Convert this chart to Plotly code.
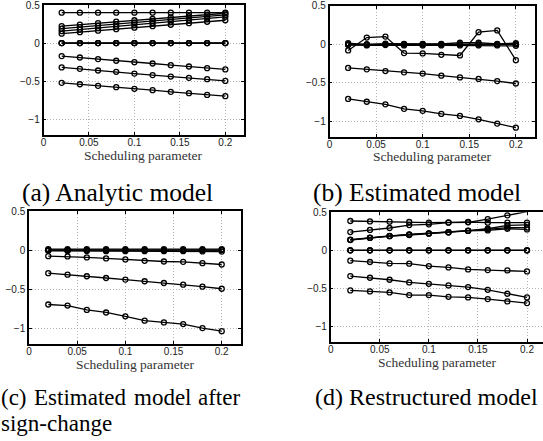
import plotly.graph_objects as go

# Scheduling parameter values (x)
sched = [0.02, 0.04, 0.06, 0.08, 0.10, 0.12, 0.14, 0.16, 0.18, 0.20]

# (a) Analytic model
a_flat = [0.40, 0.40, 0.40, 0.40, 0.40, 0.40, 0.40, 0.40, 0.40, 0.40]
a_rise1 = [0.224, 0.243, 0.262, 0.281, 0.300, 0.318, 0.337, 0.355, 0.373, 0.392]
a_rise2 = [0.190, 0.210, 0.230, 0.250, 0.270, 0.290, 0.310, 0.330, 0.350, 0.370]
a_rise3 = [0.158, 0.178, 0.199, 0.220, 0.241, 0.262, 0.283, 0.304, 0.325, 0.345]
a_rise4 = [0.124, 0.144, 0.163, 0.183, 0.202, 0.222, 0.241, 0.261, 0.280, 0.300]
a_zero = [0.0, 0.0, 0.0, 0.0, 0.0, 0.0, 0.0, 0.0, 0.0, 0.0]
a_neg1 = [-0.171, -0.189, -0.210, -0.232, -0.250, -0.268, -0.290, -0.307, -0.329, -0.346]
a_neg2 = [-0.320, -0.338, -0.360, -0.377, -0.400, -0.420, -0.439, -0.456, -0.474, -0.496]
a_neg3 = [-0.522, -0.540, -0.561, -0.579, -0.600, -0.618, -0.640, -0.658, -0.680, -0.697]

# (b) Estimated model
b_zero1 = [0.015, -0.005, 0.010, 0.005, 0.005, 0.005, 0.020, 0.020, 0.005, 0.015]
b_zero2 = [0.000, 0.000, 0.000, 0.000, 0.000, 0.000, 0.000, 0.000, 0.000, 0.000]
b_zero3 = [-0.010, -0.015, -0.010, -0.015, -0.015, -0.015, -0.015, -0.015, -0.015, -0.020]
b_osc = [-0.080, 0.088, 0.100, -0.114, -0.118, -0.136, -0.145, 0.158, 0.180, -0.206]
b_neg1 = [-0.307, -0.325, -0.347, -0.364, -0.380, -0.408, -0.430, -0.450, -0.478, -0.509]
b_neg2 = [-0.710, -0.746, -0.780, -0.838, -0.864, -0.904, -0.930, -0.974, -1.030, -1.083]

# (c) Estimated model after sign-change
c_zero1 = [0.012, 0.012, 0.012, 0.012, 0.012, 0.012, 0.012, 0.012, 0.012, 0.012]
c_zero2 = [0.000, 0.000, 0.000, 0.000, 0.000, 0.000, 0.000, 0.000, 0.000, 0.000]
c_zero3 = [-0.010, -0.012, -0.012, -0.015, -0.015, -0.015, -0.015, -0.015, -0.018, -0.020]
c_neg1 = [-0.078, -0.082, -0.095, -0.108, -0.120, -0.138, -0.147, -0.151, -0.168, -0.185]
c_neg2 = [-0.297, -0.315, -0.336, -0.358, -0.379, -0.400, -0.422, -0.444, -0.470, -0.496]
c_neg3 = [-0.698, -0.711, -0.767, -0.800, -0.849, -0.905, -0.927, -0.948, -1.000, -1.039]

# (d) Restructured model
d_flat = [0.386, 0.380, 0.377, 0.373, 0.364, 0.368, 0.373, 0.364, 0.364, 0.364]
d_rise = [0.241, 0.268, 0.294, 0.333, 0.342, 0.364, 0.368, 0.410, 0.460, 0.509]
d_low1 = [0.140, 0.167, 0.190, 0.210, 0.224, 0.240, 0.259, 0.284, 0.327, 0.336]
d_low2 = [0.138, 0.165, 0.188, 0.206, 0.222, 0.238, 0.257, 0.276, 0.300, 0.300]
d_low3 = [0.135, 0.163, 0.186, 0.202, 0.220, 0.236, 0.255, 0.262, 0.284, 0.275]
d_zero = [0.0, 0.0, 0.0, 0.0, 0.0, 0.0, 0.0, 0.0, 0.0, 0.0]
d_neg1 = [-0.136, -0.153, -0.171, -0.175, -0.206, -0.224, -0.250, -0.259, -0.263, -0.276]
d_neg2 = [-0.338, -0.360, -0.386, -0.421, -0.439, -0.460, -0.482, -0.518, -0.570, -0.618]
d_neg3 = [-0.526, -0.539, -0.553, -0.588, -0.588, -0.610, -0.618, -0.640, -0.671, -0.693]

x_ticks = [0, 0.05, 0.1, 0.15, 0.2]
x_ticklabels = ["0", "0.05", "0.1", "0.15", "0.2"]
y_ticks = [-1, -0.5, 0, 0.5]
y_ticklabels = ["\u22121", "\u22120.5", "0", "0.5"]

xlabel = "Scheduling parameter"
captions = {
    "a": "(a) Analytic model",
    "b": "(b) Estimated model",
    "d": "(d) Restructured model",
}
caption_c_words = ["(c)", "Estimated", "model", "after"]
caption_c_line2 = "sign-change"

panels = {
    "a": [a_flat, a_rise1, a_rise2, a_rise3, a_rise4, a_zero, a_zero, a_zero, a_neg1, a_neg2, a_neg3],
    "b": [b_zero1, b_zero2, b_zero3, b_zero2, b_osc, b_neg1, b_neg2],
    "c": [c_zero1, c_zero2, c_zero3, c_zero2, c_neg1, c_neg2, c_neg3],
    "d": [d_flat, d_rise, d_low1, d_low2, d_low3, d_zero, d_zero, d_zero, d_neg1, d_neg2, d_neg3],
}

W, H = 543, 441

def px(v):
    return v / W

def py(v):
    return 1 - v / H

# domains (pixel based); tx/ty = x-axis label centre
geom = {
    "a": dict(x=(43.5, 243.5), y=(5.0, 134.5), xr=[0, 0.22], mirror_y=True, tx=143.5, ty=155),
    "b": dict(x=(329.5, 534.5), y=(5.8, 136.7), xr=[0, 0.22], mirror_y=True, tx=432, ty=156.5),
    "c": dict(x=(29.0, 241.0), y=(211.0, 343.7), xr=[0, 0.22], mirror_y=True, tx=135, ty=364),
    "d": dict(x=(330.7, 543.0), y=(212.3, 341.7), xr=[0, 0.2163], mirror_y=False, tx=437.5, ty=362.5),
}

fig = go.Figure()
tick_font = dict(family="Liberation Sans, Arial, sans-serif", size=10, color="#222")
serif = "Liberation Serif, Times New Roman, serif"
annotations = []

for i, key in enumerate(["a", "b", "c", "d"]):
    n = "" if i == 0 else str(i + 1)
    g = geom[key]
    for s in panels[key]:
        fig.add_trace(go.Scatter(
            x=sched, y=s, mode="lines+markers",
            line=dict(color="black", width=1.3),
            marker=dict(symbol="circle-open", size=5, color="black", line=dict(width=1.3)),
            xaxis="x" + n, yaxis="y" + n, showlegend=False, hoverinfo="skip",
            cliponaxis=False,
        ))
    fig.layout["xaxis" + n] = dict(
        domain=[px(g["x"][0]), px(g["x"][1])], anchor="y" + n, range=g["xr"],
        tickvals=x_ticks, ticktext=x_ticklabels, tickfont=tick_font,
        showline=True, linecolor="black", linewidth=1.5, mirror="ticks",
        ticks="inside", ticklen=3, tickcolor="black", tickwidth=1,
        showgrid=True, gridcolor="#b4b4b4", griddash="1px,2px", gridwidth=1,
        zeroline=False, fixedrange=True, automargin=False, ticklabeloverflow="allow",
        ticklabelstandoff=-2,
    )
    fig.layout["yaxis" + n] = dict(
        domain=[py(g["y"][1]), py(g["y"][0])], anchor="x" + n, range=[-1.2, 0.5002],
        tickvals=y_ticks, ticktext=y_ticklabels, tickfont=tick_font,
        showline=True, linecolor="black", linewidth=1.5,
        mirror="ticks" if g["mirror_y"] else False,
        ticks="inside", ticklen=3, tickcolor="black", tickwidth=1,
        showgrid=True, gridcolor="#b4b4b4", griddash="1px,2px", gridwidth=1,
        zeroline=False, fixedrange=True, automargin=False, ticklabeloverflow="allow",
    )
    annotations.append(dict(text=xlabel, x=px(g["tx"]), y=py(g["ty"]), xref="paper", yref="paper",
                            xanchor="center", yanchor="middle", showarrow=False,
                            font=dict(family=serif, size=13.5, color="#333")))

cap_font_top = dict(family=serif, size=25.5, color="black")
cap_font = dict(family=serif, size=23, color="black")
cap_font_d = dict(family=serif, size=24, color="black")
annotations += [
    dict(text=captions["a"], x=px(21), y=py(192), xref="paper", yref="paper",
         xanchor="left", yanchor="middle", showarrow=False, font=cap_font_top),
    dict(text=captions["b"], x=px(312), y=py(192), xref="paper", yref="paper",
         xanchor="left", yanchor="middle", showarrow=False, font=cap_font_top),
    dict(text=captions["d"], x=px(314), y=py(397), xref="paper", yref="paper",
         xanchor="left", yanchor="middle", showarrow=False, font=cap_font_d),
]
c_pos = [(0, "left"), (33, "left"), (163, "center"), (241, "right")]
for word, (xp, anc) in zip(caption_c_words, c_pos):
    annotations.append(dict(text=word, x=px(xp), y=py(397), xref="paper", yref="paper",
                            xanchor=anc, yanchor="middle", showarrow=False, font=cap_font))
annotations.append(dict(text=caption_c_line2, x=px(0), y=py(423), xref="paper", yref="paper",
                        xanchor="left", yanchor="middle", showarrow=False, font=cap_font))

fig.update_layout(
    width=W, height=H, margin=dict(l=0, r=0, t=0, b=0, autoexpand=False),
    paper_bgcolor="white", plot_bgcolor="white",
    annotations=annotations,
)
for a in fig.layout.annotations:
    a.update(borderpad=0)

fig.write_html("out.html", config={"displayModeBar": False},
               post_script="document.body.style.margin='0';document.body.style.overflow='hidden';")
